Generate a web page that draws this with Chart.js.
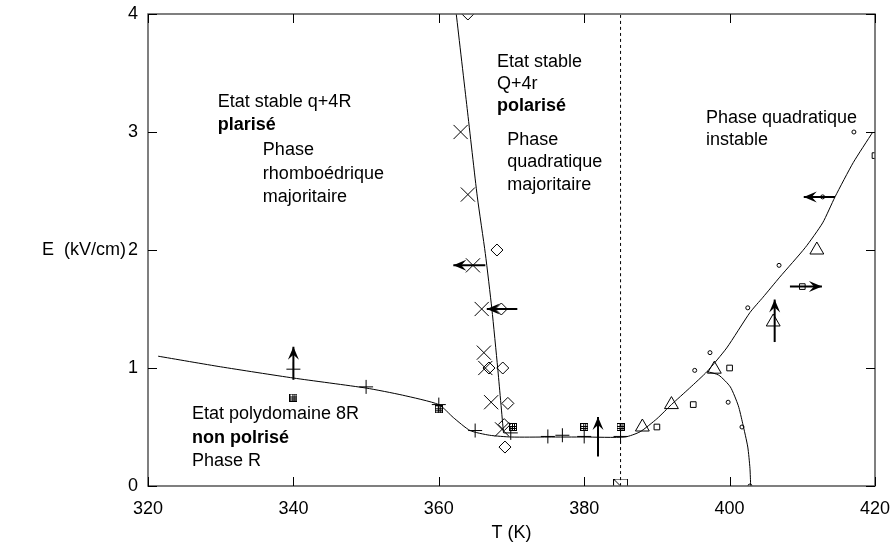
<!DOCTYPE html>
<html>
<head>
<meta charset="utf-8">
<script src="https://cdn.jsdelivr.net/npm/chart.js@4.4.1/dist/chart.umd.min.js"></script>
<style>
  html, body { margin: 0; padding: 0; background: #fff; }
</style>
</head>
<body>
<canvas id="chart" width="890" height="546"></canvas>
<script>
// Axis ticks
const tempTicks = [320, 340, 360, 380, 400, 420];
const fieldTicks = [0, 1, 2, 3, 4];

// Boundary curves (T in K, E in kV/cm)
const mainCurveT = [321.4, 330, 340, 350, 355, 360, 362, 364.3, 367, 370, 375, 380, 385.6, 387.7, 390, 392, 394.5, 396.9, 399.6, 402.8, 404.6, 406.9, 410.4, 412.8, 414.5, 417, 419.7];
const mainCurveE = [1.10, 1.01, 0.915, 0.83, 0.77, 0.69, 0.58, 0.47, 0.43, 0.415, 0.415, 0.415, 0.415, 0.46, 0.57, 0.69, 0.83, 0.97, 1.17, 1.47, 1.60, 1.77, 2.02, 2.23, 2.45, 2.74, 3.0];

const steepCurveT = [362.4, 363.9, 365.3, 366.4, 367.3, 368.1, 368.9];
const steepCurveE = [4.0, 3.2, 2.45, 1.97, 1.5, 1.0, 0.45];

const domeCurveT = [396.9, 398.5, 400.1, 401.2, 401.8, 402.5, 402.8, 402.9];
const domeCurveE = [0.97, 0.94, 0.84, 0.68, 0.53, 0.33, 0.15, 0.0];

const dashedT = [385, 385];
const dashedE = [0, 4];

// Measured points
const crossT = [363.0, 364.0, 364.7, 365.9, 366.2, 366.4, 367.2, 368.7];
const crossE = [3.0, 2.47, 1.87, 1.5, 1.13, 1.0, 0.71, 0.48];

const diamondT = [364.0, 368.0, 368.6, 366.9, 368.8, 369.5, 369.1, 369.0];
const diamondE = [4.0, 2.0, 1.5, 1.0, 1.0, 0.70, 0.33, 0.52];

const plusT = [340, 350, 360, 365, 369.9, 375, 377, 380, 385];
const plusE = [0.99, 0.84, 0.69, 0.47, 0.45, 0.42, 0.43, 0.42, 0.42];

const gridSqT = [340, 360, 370.2, 380, 385];
const gridSqE = [0.75, 0.65, 0.5, 0.5, 0.5];

const squareT = [390, 395, 400, 410, 420];
const squareE = [0.5, 0.69, 1.0, 1.69, 2.8];

const bigSquareT = [385];
const bigSquareE = [0];

const triangleT = [388, 392, 397.9, 406, 412];
const triangleE = [0.5, 0.69, 0.99, 1.39, 2.0];

const dotT = [395.2, 397.3, 399.8, 401.7, 402.5, 402.8, 406.8, 412.8, 417.1];
const dotE = [0.98, 1.13, 0.71, 0.5, 1.51, 0.0, 1.87, 2.45, 3.0];

// Arrows: start -> tip
const arrowFromT = [340, 366.4, 370.8, 381.9, 406.2, 408.3, 414.5];
const arrowFromE = [0.9, 1.87, 1.5, 0.25, 1.22, 1.69, 2.45];
const arrowToT = [340, 362.0, 366.6, 381.9, 406.2, 412.7, 410.2];
const arrowToE = [1.18, 1.87, 1.5, 0.585, 1.58, 1.69, 2.45];

// Text in the plot
const notes = [
  ['Etat stable q+4R', 329.6, 3.25, false],
  ['plarisé', 329.6, 3.06, true],
  ['Phase', 335.8, 2.85, false],
  ['rhomboédrique', 335.8, 2.645, false],
  ['majoritaire', 335.8, 2.45, false],
  ['Etat stable', 368.0, 3.59, false],
  ['Q+4r', 368.0, 3.405, false],
  ['polarisé', 368.0, 3.22, true],
  ['Phase', 369.4, 2.93, false],
  ['quadratique', 369.4, 2.745, false],
  ['majoritaire', 369.4, 2.55, false],
  ['Phase quadratique', 396.75, 3.12, false],
  ['instable', 396.75, 2.93, false],
  ['Etat polydomaine 8R', 326.05, 0.61, false],
  ['non polrisé', 326.05, 0.405, true],
  ['Phase R', 326.05, 0.21, false]
];

const FONT = '"Liberation Sans", Arial, sans-serif';

function pts(ts, es) {
  return ts.map((t, i) => ({ x: t, y: es[i] }));
}

// small square with inner grid
function makeGridSquare() {
  const c = document.createElement('canvas');
  c.width = 8; c.height = 8;
  const g = c.getContext('2d');
  g.strokeStyle = '#000';
  g.lineWidth = 1;
  g.strokeRect(0.5, 0.5, 7, 7);
  g.beginPath();
  g.moveTo(3.5, 0); g.lineTo(3.5, 8);
  g.moveTo(0, 3.5); g.lineTo(8, 3.5);
  g.moveTo(5.5, 0); g.lineTo(5.5, 8);
  g.moveTo(0, 5.5); g.lineTo(8, 5.5);
  g.stroke();
  return c;
}

// large square with a diagonal
function makeBigSquare() {
  const c = document.createElement('canvas');
  c.width = 15; c.height = 15;
  const g = c.getContext('2d');
  g.strokeStyle = '#000';
  g.lineWidth = 1;
  g.strokeRect(0.5, 0.5, 14, 14);
  g.beginPath();
  g.moveTo(0.5, 0.5); g.lineTo(14.5, 14.5);
  g.stroke();
  return c;
}

function curve(ts, es, dash) {
  return {
    data: pts(ts, es),
    showLine: true,
    borderColor: '#000',
    borderWidth: 1,
    borderDash: dash || [],
    pointRadius: 0,
    tension: 0.2
  };
}

function marker(ts, es, style, radius) {
  return {
    data: pts(ts, es),
    showLine: false,
    pointStyle: style,
    pointRadius: radius,
    pointBorderColor: '#000',
    pointBackgroundColor: 'rgba(0,0,0,0)',
    pointBorderWidth: 1
  };
}

const datasets = [
  curve(mainCurveT, mainCurveE),
  curve(steepCurveT, steepCurveE),
  curve(domeCurveT, domeCurveE),
  curve(dashedT, dashedE, [3, 3]),
  marker(crossT, crossE, 'crossRot', 10),
  marker(diamondT, diamondE, 'rectRot', 6),
  marker(plusT, plusE, 'cross', 7),
  marker(gridSqT, gridSqE, makeGridSquare(), 4),
  marker(squareT, squareE, 'rect', 4),
  marker(bigSquareT, bigSquareE, makeBigSquare(), 7),
  marker(triangleT, triangleE, 'triangle', 8),
  marker(dotT, dotE, 'circle', 2)
];

for (let i = 0; i < arrowFromT.length; i++) {
  datasets.push({
    data: [{ x: arrowFromT[i], y: arrowFromE[i] }, { x: arrowToT[i], y: arrowToE[i] }],
    showLine: true,
    borderColor: '#000',
    borderWidth: 2,
    pointRadius: 0,
    arrow: true
  });
}

// Frame, inward ticks, notes and arrow heads
const decorations = {
  id: 'decorations',
  afterDatasetsDraw(chart) {
    const ctx = chart.ctx;
    const area = chart.chartArea;
    const xs = chart.scales.x;
    const ys = chart.scales.y;

    ctx.save();
    // arrow heads
    ctx.fillStyle = '#000';
    chart.data.datasets.forEach((ds, i) => {
      if (!ds.arrow) return;
      const pts = chart.getDatasetMeta(i).data;
      const a = pts[0], b = pts[1];
      const ang = Math.atan2(b.y - a.y, b.x - a.x);
      ctx.save();
      ctx.translate(b.x, b.y);
      ctx.rotate(ang);
      ctx.beginPath();
      ctx.moveTo(0, 0);
      ctx.lineTo(-13, -5.5);
      ctx.lineTo(-8, 0);
      ctx.lineTo(-13, 5.5);
      ctx.closePath();
      ctx.fill();
      ctx.restore();
    });

    // frame
    ctx.strokeStyle = '#555';
    ctx.lineWidth = 1.5;
    ctx.strokeRect(area.left, area.top, area.right - area.left, area.bottom - area.top);

    // inward ticks
    ctx.strokeStyle = '#000';
    ctx.lineWidth = 1;
    ctx.beginPath();
    tempTicks.forEach(t => {
      const px = Math.round(xs.getPixelForValue(t)) + 0.5;
      ctx.moveTo(px, area.bottom); ctx.lineTo(px, area.bottom - 9);
      ctx.moveTo(px, area.top); ctx.lineTo(px, area.top + 9);
    });
    fieldTicks.forEach(e => {
      const py = Math.round(ys.getPixelForValue(e)) + 0.5;
      ctx.moveTo(area.left, py); ctx.lineTo(area.left + 9, py);
      ctx.moveTo(area.right, py); ctx.lineTo(area.right - 9, py);
    });
    ctx.stroke();

    // notes
    ctx.fillStyle = '#000';
    ctx.textBaseline = 'middle';
    ctx.textAlign = 'left';
    notes.forEach(([text, t, e, bold]) => {
      ctx.font = (bold ? 'bold ' : '') + '18px ' + FONT;
      ctx.fillText(text, xs.getPixelForValue(t), ys.getPixelForValue(e));
    });

    // y axis title, horizontal
    ctx.font = '18px ' + FONT;
    ctx.fillText('E  (kV/cm)', 42, ys.getPixelForValue(2));
    ctx.restore();
  }
};

new Chart(document.getElementById('chart'), {
  type: 'scatter',
  data: { datasets: datasets },
  options: {
    responsive: false,
    animation: false,
    layout: { padding: { left: 0, right: 15, top: 14, bottom: 0 } },
    plugins: {
      legend: { display: false },
      tooltip: { enabled: false }
    },
    scales: {
      x: {
        type: 'linear',
        min: 320,
        max: 420,
        afterFit: s => { s.height = 60; s.paddingLeft = 0; s.paddingRight = 0; },
        afterBuildTicks: s => { s.ticks = tempTicks.map(v => ({ value: v })); },
        grid: { display: false },
        border: { display: false },
        ticks: { padding: 4, color: '#000', font: { size: 18, family: FONT } },
        title: { display: true, text: 'T (K)', color: '#000', padding: { top: 0, bottom: 2 }, font: { size: 18, family: FONT } }
      },
      y: {
        type: 'linear',
        min: 0,
        max: 4,
        afterFit: s => { s.width = 148; s.paddingTop = 0; s.paddingBottom = 0; },
        afterBuildTicks: s => { s.ticks = fieldTicks.map(v => ({ value: v })); },
        grid: { display: false },
        border: { display: false },
        ticks: { padding: 2, color: '#000', font: { size: 18, family: FONT } }
      }
    }
  },
  plugins: [decorations]
});
</script>
</body>
</html>
